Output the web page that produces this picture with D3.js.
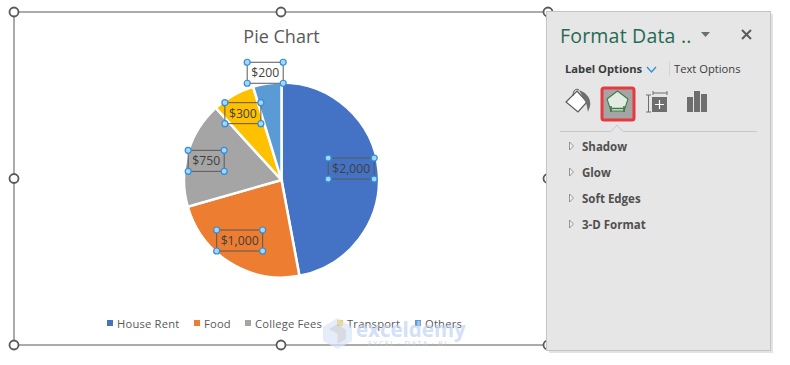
<!DOCTYPE html>
<html>
<head>
<meta charset="utf-8">
<script src="https://cdn.jsdelivr.net/npm/d3@7"></script>
<style>
  html, body { margin: 0; padding: 0; background: #fff; overflow: hidden; }
  text { font-family: "Open Sans", "Noto Sans", sans-serif; }
</style>
</head>
<body>
<div id="chart"></div>
<script>
// Chart data
const categories = ["House Rent", "Food", "College Fees", "Transport", "Others"]
const amounts = [2000, 1000, 750, 300, 200]
const sliceColors = ["#4472c4", "#ed7d31", "#a5a5a5", "#ffc000", "#5b9bd5"]
const paneSections = ["Shadow", "Glow", "Soft Edges", "3-D Format"]

// Label nudges from the arc centroid, same order as categories
const labelNudges = [[0, -5], [-5, 1], [-8, 0], [-4, -6], [-6, -38]]

const width = 790
const height = 365
const frameLeft = 14
const frameRight = 548
const frameTop = 12
const frameBottom = 345
const cx = 281.5
const cy = 180
const radius = 97.5

const textColor = "#595959"
const handleBlue = "#2e8fdc"
const handleFill = "#a9d4f5"

const svg = d3
  .select("#chart")
  .append("svg")
  .attr("width", width)
  .attr("height", height)
  .attr("viewBox", [0, 0, width, height])
  .style("display", "block")

// Chart frame and its handles
svg
  .append("rect")
  .attr("x", frameLeft)
  .attr("y", frameTop)
  .attr("width", frameRight - frameLeft)
  .attr("height", frameBottom - frameTop)
  .attr("fill", "#fff")
  .attr("stroke", "#595959")
  .attr("stroke-width", 1)

const frameXs = [frameLeft, (frameLeft + frameRight) / 2, frameRight]
const frameYs = [frameTop, (frameTop + frameBottom) / 2, frameBottom]
frameXs.forEach((x, i) => {
  frameYs.forEach((y, j) => {
    if (i === 1 && j === 1) return
    svg
      .append("circle")
      .attr("cx", x)
      .attr("cy", y)
      .attr("r", 4.5)
      .attr("fill", "#fff")
      .attr("stroke", "#595959")
      .attr("stroke-width", 1.8)
  })
})

// Title
svg
  .append("text")
  .attr("x", cx)
  .attr("y", 43)
  .attr("text-anchor", "middle")
  .style("font-size", "18px")
  .style("fill", textColor)
  .text("Pie Chart")

// Pie
const pie = d3.pie().value((d) => d).sort(null)
const arc = d3.arc().innerRadius(0).outerRadius(radius)
const labelArc = d3.arc().innerRadius(70).outerRadius(70)
const slices = pie(amounts)

const pieGroup = svg.append("g").attr("transform", `translate(${cx},${cy})`)

pieGroup
  .selectAll("path")
  .data(slices)
  .join("path")
  .attr("d", arc)
  .attr("fill", (d, i) => sliceColors[i])
  .attr("stroke", "#fff")
  .attr("stroke-width", 2.5)

// Data labels with selection boxes
const labelFormat = d3.format("$,")
const labels = pieGroup
  .selectAll(".data-label")
  .data(slices)
  .join("g")
  .attr("class", "data-label")
  .attr("transform", (d, i) => {
    const [x, y] = labelArc.centroid(d)
    return `translate(${x + labelNudges[i][0]},${y + labelNudges[i][1]})`
  })

labels.each(function (d) {
  const g = d3.select(this)
  const w = d.value >= 1000 ? 46 : 36
  const h = 21
  g.append("rect")
    .attr("x", -w / 2)
    .attr("y", -h / 2)
    .attr("width", w)
    .attr("height", h)
    .attr("fill", d.value === 200 ? "#fff" : "none")
    .attr("stroke", "#595959")
    .attr("stroke-width", 1)
  g.append("text")
    .attr("y", 4.5)
    .attr("text-anchor", "middle")
    .style("font-size", "12.2px")
    .style("fill", "#404040")
    .text(labelFormat(d.value))
  ;[-w / 2, w / 2].forEach((x) => {
    ;[-h / 2, h / 2].forEach((y) => {
      g.append("circle")
        .attr("cx", x)
        .attr("cy", y)
        .attr("r", 3)
        .attr("fill", handleFill)
        .attr("stroke", handleBlue)
        .attr("stroke-width", 1.2)
    })
  })
})

// Legend
const legendX = [107, 194, 245, 337, 415]
const legend = svg
  .selectAll(".legend-item")
  .data(categories)
  .join("g")
  .attr("class", "legend-item")
  .attr("transform", (d, i) => `translate(${legendX[i]},320)`)

legend
  .append("rect")
  .attr("x", 0)
  .attr("y", 0)
  .attr("width", 6)
  .attr("height", 6)
  .attr("fill", (d, i) => sliceColors[i])

legend
  .append("text")
  .attr("x", 10)
  .attr("y", 7.5)
  .style("font-size", "11.2px")
  .style("letter-spacing", "0.2px")
  .style("fill", textColor)
  .text((d) => d)

// Watermark
const mark = svg.append("g").attr("opacity", 0.7)
mark
  .append("path")
  .attr("d", "M337.5,318 L352,327 L352,341 L337.5,349 L323,341 L323,327 Z")
  .attr("fill", "#dbe5f8")
mark
  .append("path")
  .attr("d", "M337.5,324 L346,330 L346,339 L337.5,344 L337.5,334 L329,329 Z")
  .attr("fill", "#c9cdd6")
mark
  .append("text")
  .attr("x", 356)
  .attr("y", 337)
  .style("font-size", "20.5px")
  .style("font-weight", 700)
  .style("fill", "#c0d3f6")
  .text("exceldemy")
mark
  .append("text")
  .attr("x", 368)
  .attr("y", 346)
  .style("font-size", "7.5px")
  .style("letter-spacing", "1.2px")
  .style("fill", "#c2c6cc")
  .text("EXCEL · DATA · BI")

// Format pane
const pane = svg.append("g")
pane
  .append("rect")
  .attr("x", 549)
  .attr("y", 14)
  .attr("width", 224)
  .attr("height", 339)
  .attr("fill", "#d0d0d0")
  .attr("opacity", 0.6)
pane
  .append("rect")
  .attr("x", 546.5)
  .attr("y", 11.5)
  .attr("width", 224)
  .attr("height", 339)
  .attr("fill", "#e6e6e6")
  .attr("stroke", "#c4c4c4")

pane
  .append("text")
  .attr("x", 560)
  .attr("y", 43)
  .style("font-size", "19.5px")
  .style("letter-spacing", "0.2px")
  .style("fill", "#1f6b55")
  .text("Format Data ..")

// Pane drop arrow and close button
pane.append("path").attr("d", "M701,32 L710,32 L705.5,37 Z").attr("fill", "#6e6e6e")
pane
  .append("path")
  .attr("d", "M742,30 L751,39 M751,30 L742,39")
  .attr("stroke", "#5a5a5a")
  .attr("stroke-width", 2)

pane
  .append("text")
  .attr("x", 565)
  .attr("y", 73)
  .style("font-size", "11.2px")
  .style("font-weight", 700)
  .style("fill", "#3c3c3c")
  .text("Label Options")
pane
  .append("path")
  .attr("d", "M647,67 L651.5,72 L656,67")
  .attr("fill", "none")
  .attr("stroke", "#2e8fdc")
  .attr("stroke-width", 1.3)
pane
  .append("line")
  .attr("x1", 669.5)
  .attr("x2", 669.5)
  .attr("y1", 61)
  .attr("y2", 76)
  .attr("stroke", "#d4d4d4")
pane
  .append("text")
  .attr("x", 674)
  .attr("y", 73)
  .style("font-size", "11.2px")
  .style("fill", "#3c3c3c")
  .text("Text Options")

// Paint bucket icon
pane
  .append("path")
  .attr("d", "M577,91 L587,102 L578,112 L566,102 Z")
  .attr("fill", "#fff")
  .attr("stroke", "#5a5a5a")
  .attr("stroke-width", 1.2)
pane
  .append("path")
  .attr("d", "M573,96 C573,90 576,88 579,90")
  .attr("fill", "none")
  .attr("stroke", "#5a5a5a")
pane
  .append("path")
  .attr("d", "M579,90 C585,92 590,97 590,102 C591,105 589,109 588,112 C587,108 587,104 585,101 Z")
  .attr("fill", "#6e6e6e")

// Effects icon, selected
pane
  .append("rect")
  .attr("x", 602)
  .attr("y", 88)
  .attr("width", 32)
  .attr("height", 32)
  .attr("rx", 2)
  .attr("fill", "#a5a5a5")
  .attr("stroke", "#e8393f")
  .attr("stroke-width", 3)
pane
  .append("path")
  .attr("d", "M617.5,91 L628,99 L624,111 L611,111 L607,99 Z")
  .attr("fill", "#e3ece3")
  .attr("stroke", "#3f7d43")
  .attr("stroke-width", 1.1)
pane
  .append("path")
  .attr("d", "M610,108.5 L625,108.5 M611,106 L611,112 M624,106 L624,112")
  .attr("stroke", "#3f7d43")
  .attr("stroke-width", 1.6)

// Size and properties icon
pane
  .append("path")
  .attr("d", "M653,93 L667,93 M653,91 L653,95 M667,91 L667,95 M646,95 L651,95 M648.5,95 L648.5,112 M646,112 L651,112")
  .attr("stroke", "#6e6e6e")
  .attr("fill", "none")
pane.append("rect").attr("x", 652).attr("y", 97).attr("width", 15).attr("height", 15).attr("fill", "#6e6e6e")
pane
  .append("path")
  .attr("d", "M659.5,100 L659.5,109 M655,104.5 L664,104.5")
  .attr("stroke", "#fff")
  .attr("stroke-width", 1.2)

// Bars icon
const barIcon = [[687, 97, 6, 15], [694, 91, 6, 21], [701, 94, 6, 18]]
barIcon.forEach(([x, y, w, h]) => {
  pane.append("rect").attr("x", x).attr("y", y).attr("width", w).attr("height", h).attr("fill", "#6e6e6e")
})

// Separator with a pointer under the selected icon
pane
  .append("path")
  .attr("d", "M560,131.5 L611,131.5 L617,125 L623,131.5 L757,131.5")
  .attr("fill", "none")
  .attr("stroke", "#c8c8c8")

// Collapsed sections
const sections = pane
  .selectAll(".section")
  .data(paneSections)
  .join("g")
  .attr("class", "section")
  .attr("transform", (d, i) => `translate(0,${146 + i * 26})`)

sections
  .append("path")
  .attr("d", "M569.5,-4 L573.5,0 L569.5,4 Z")
  .attr("fill", "#f0f0f0")
  .attr("stroke", "#808080")
  .attr("stroke-width", 0.8)

sections
  .append("text")
  .attr("x", 582)
  .attr("y", 5)
  .style("font-size", "11.5px")
  .style("font-weight", 700)
  .style("fill", "#505050")
  .text((d) => d)
</script>
</body>
</html>
